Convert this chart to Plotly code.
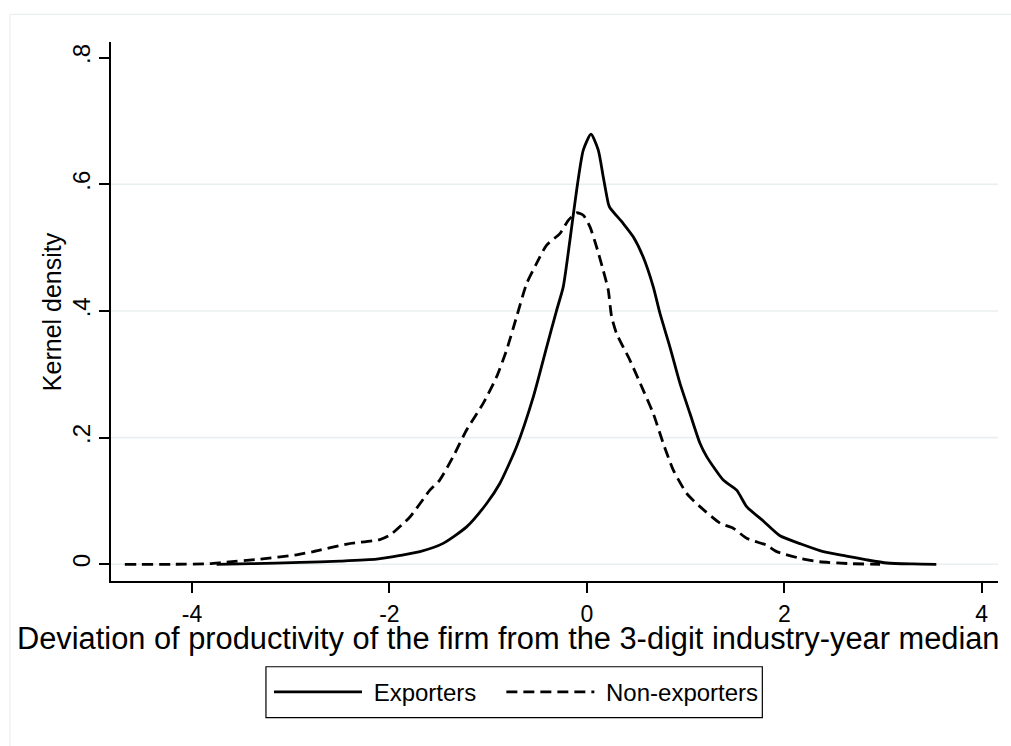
import plotly.graph_objects as go

# Data
exp_x = [-3.75, -3.4, -2.9, -2.5, -2.13, -1.89, -1.69, -1.455, -1.218, -1.015, -0.88, -0.711,
         -0.543, -0.407, -0.306, -0.239, -0.171, -0.103, -0.036, 0.042, 0.116, 0.166, 0.217,
         0.234, 0.369, 0.47, 0.571, 0.673, 0.741, 0.842, 0.943, 1.045, 1.146, 1.214, 1.382,
         1.518, 1.619, 1.79, 1.957, 2.17, 2.395, 2.63, 2.835, 3.04, 3.3, 3.54]
exp_y = [0, 0.001, 0.003, 0.005, 0.008, 0.014, 0.020, 0.033, 0.059, 0.096, 0.128, 0.186,
         0.264, 0.343, 0.401, 0.438, 0.512, 0.591, 0.654, 0.679, 0.654, 0.612, 0.570,
         0.563, 0.538, 0.517, 0.485, 0.438, 0.396, 0.343, 0.286, 0.238, 0.191, 0.170, 0.133,
         0.117, 0.091, 0.068, 0.045, 0.032, 0.020, 0.013, 0.007, 0.002, 0.0005, 0]

non_x = [-4.68, -4.2, -3.82, -3.68, -3.31, -2.94, -2.77, -2.43, -2.096, -1.995, -1.79, -1.59,
         -1.49, -1.354, -1.218, -1.05, -0.914, -0.813, -0.711, -0.61, -0.509, -0.407, -0.273,
         -0.188, -0.103, -0.036, 0.031, 0.099, 0.166, 0.217, 0.251, 0.302, 0.437, 0.571, 0.673,
         0.774, 0.875, 1.011, 1.146, 1.349, 1.483, 1.619, 1.822, 1.923, 2.159, 2.36, 2.67, 2.97]
non_y = [0, 0, 0.001, 0.003, 0.008, 0.015, 0.020, 0.032, 0.039, 0.046, 0.075, 0.117,
         0.133, 0.170, 0.212, 0.254, 0.296, 0.338, 0.391, 0.443, 0.475, 0.504, 0.522,
         0.543, 0.555, 0.551, 0.533, 0.501, 0.464, 0.433, 0.391, 0.364, 0.322, 0.275, 0.238,
         0.191, 0.149, 0.112, 0.091, 0.065, 0.057, 0.041, 0.030, 0.020, 0.0095, 0.004, 0.001, 0]

series_names = ["Exporters", "Non-exporters"]

x_ticks = [-4, -2, 0, 2, 4]
x_labels = ["-4", "-2", "0", "2", "4"]
y_ticks = [0, 0.2, 0.4, 0.6, 0.8]
y_labels = ["0", ".2", ".4", ".6", ".8"]
grid_vals = [0, 0.2, 0.4, 0.6]

x_title = "Deviation of productivity of the firm from the 3-digit industry-year median"
y_title = "Kernel density"

FONT = "Liberation Sans, Arial, sans-serif"
NB = "\u00a0"

fig = go.Figure()
fig.add_trace(go.Scatter(x=exp_x, y=exp_y, mode="lines",
                         name=NB + series_names[0] + NB * 3,
                         line=dict(color="black", width=2.8, shape="spline", smoothing=0.6)))
fig.add_trace(go.Scatter(x=non_x, y=non_y, mode="lines",
                         name=NB + series_names[1],
                         line=dict(color="black", width=2.8, dash="11px,6px",
                                   shape="spline", smoothing=0.6)))

shapes = []
for g in grid_vals:
    shapes.append(dict(type="line", xref="paper", x0=0, x1=1, yref="y", y0=g, y1=g,
                       line=dict(color="#e8eff1", width=1.6), layer="below"))
# outer graph-region frame
shapes.append(dict(type="rect", xref="paper", yref="paper", x0=-0.1139, x1=1.03,
                   y0=-0.32, y1=1.0514, line=dict(color="#e6ebec", width=1), layer="below"))
# legend box
shapes.append(dict(type="rect", xref="paper", yref="paper", x0=0.1747, x1=0.7343,
                   y0=-0.2536, y1=-0.1591, line=dict(color="black", width=1.2),
                   fillcolor="rgba(0,0,0,0)", layer="above"))

annotations = [
    dict(text=x_title, xref="paper", yref="paper", x=0.4476, y=-0.1075,
         xanchor="center", yanchor="middle", showarrow=False, font=dict(size=30.8)),
    dict(text=y_title, xref="paper", yref="paper", x=-0.0665, y=0.4988, textangle=-90,
         xanchor="center", yanchor="middle", showarrow=False, font=dict(size=25)),
]

fig.update_layout(
    width=1011, height=746,
    margin=dict(l=111, r=13, t=42, b=165, autoexpand=False),
    paper_bgcolor="white", plot_bgcolor="white",
    font=dict(family=FONT, color="black", size=24),
    shapes=shapes, annotations=annotations,
    showlegend=True,
    legend=dict(orientation="h", x=0.1781, xanchor="left", y=-0.2064, yanchor="middle",
                borderwidth=0, bgcolor="rgba(0,0,0,0)",
                font=dict(size=24, family=FONT), itemwidth=88, traceorder="normal"),
    xaxis=dict(range=[-4.82, 4.165], tickvals=x_ticks, ticktext=x_labels, automargin=False,
               showgrid=False, zeroline=False, showline=True, linecolor="black", linewidth=1.5,
               ticks="outside", ticklen=10, tickwidth=1.5, tickcolor="black",
               tickfont=dict(size=23), ticklabelstandoff=2),
    yaxis=dict(range=[-0.0264, 0.8246], tickvals=y_ticks, ticktext=y_labels, automargin=False,
               showgrid=False, zeroline=False, showline=True, linecolor="black", linewidth=1.5,
               ticks="outside", ticklen=10, tickwidth=1.5, tickcolor="black",
               tickangle=-90, tickfont=dict(size=24)),
)

fig.write_html("out.html", config={"displayModeBar": False},
               post_script="document.body.style.margin='0';document.body.style.padding='0';")
